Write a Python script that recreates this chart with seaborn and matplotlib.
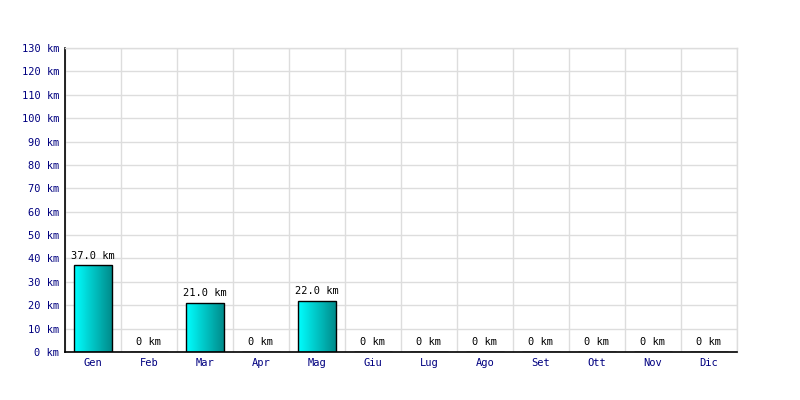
import matplotlib
matplotlib.use("Agg")
import matplotlib.pyplot as plt
import numpy as np
import pandas as pd
import seaborn as sns

months = ["Gen", "Feb", "Mar", "Apr", "Mag", "Giu", "Lug", "Ago", "Set", "Ott", "Nov", "Dic"]
km = [37.0, 0, 21.0, 0, 22.0, 0, 0, 0, 0, 0, 0, 0]
y_ticks = list(range(0, 140, 10))

sns.set_style("white")
plt.rcParams['font.family'] = ['DejaVu Sans Mono']

df = pd.DataFrame({"Mese": months, "km": km})

fig = plt.figure(figsize=(8, 4), dpi=100)
ax = fig.add_axes([65 / 800, 48 / 400, 672 / 800, 304 / 400])

sns.barplot(data=df, x="Mese", y="km", ax=ax, width=0.68,
            color="#00cccc", edgecolor="black", linewidth=1, saturation=1)

# gradient fill cyan -> teal inside each bar
grad = np.linspace(0, 1, 256).reshape(1, -1)
cmap = matplotlib.colors.LinearSegmentedColormap.from_list("cy", ["#00ffff", "#008888"])
for p in ax.patches:
    x0, y0 = p.get_x(), p.get_y()
    w, h = p.get_width(), p.get_height()
    if h <= 0:
        continue
    p.set_facecolor("none")
    im = ax.imshow(grad, cmap=cmap, aspect="auto", extent=[x0, x0 + w, y0, y0 + h],
                   zorder=p.get_zorder() - 0.1, interpolation="bilinear")
    im.set_clip_path(p)

for i, v in enumerate(km):
    lbl = "%.1f km" % v if v > 0 else "0 km"
    ax.text(i, v + 2, lbl, ha="center", va="bottom", fontsize=7.5, color="black")

ax.set_xlim(-0.5, len(months) - 0.5)
ax.set_ylim(0, 130)
ax.set_yticks(y_ticks)
ax.set_yticklabels(["%d km" % t for t in y_ticks])
ax.set_xticks(range(len(months)))
ax.set_xticklabels(months)
ax.set_xticks(np.arange(-0.5, len(months), 1), minor=True)
ax.tick_params(axis="both", which="both", length=0, labelsize=7.5, labelcolor="#000080", pad=4)
ax.grid(True, axis="y", color="#dddddd", linewidth=1)
ax.grid(True, axis="x", which="minor", color="#dddddd", linewidth=1)
ax.grid(False, axis="x", which="major")
ax.set_axisbelow(True)
ax.set_xlabel("")
ax.set_ylabel("")
for s in ["top", "right"]:
    ax.spines[s].set_color("#dddddd")
    ax.spines[s].set_linewidth(1)
for s in ["left", "bottom"]:
    ax.spines[s].set_color("black")
    ax.spines[s].set_linewidth(1.2)

fig.savefig("out.png", dpi=100)
